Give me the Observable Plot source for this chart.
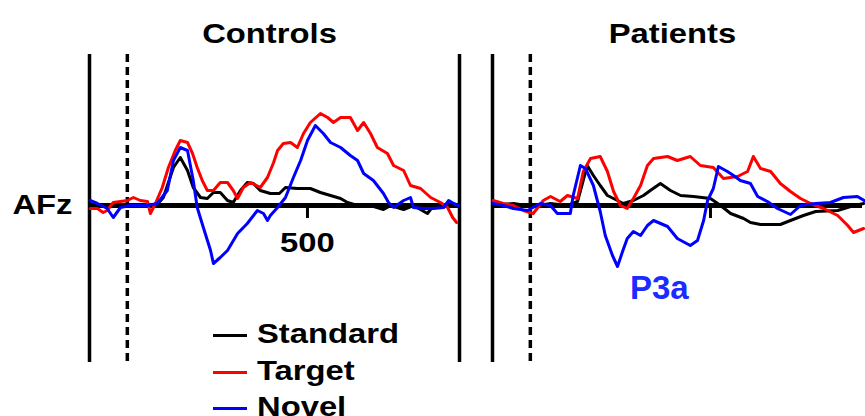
<!DOCTYPE html>
<html><head><meta charset="utf-8">
<script src="https://cdn.jsdelivr.net/npm/d3@7"></script>
<script src="https://cdn.jsdelivr.net/npm/@observablehq/plot@0.6"></script>
<style>
body{margin:0;background:#fff;}
#wrap{position:relative;width:865px;height:416px;overflow:hidden;font-family:"Liberation Sans",Arial,sans-serif;background:#fff;}
#wrap svg{position:absolute;left:0;top:0;}
.leg{position:absolute;left:213px;height:37px;width:260px;}
.leg .sw{position:absolute;left:0;top:19px;width:34px;height:3px;}
.leg .tx{position:absolute;left:44px;top:0;line-height:37px;font-size:28px;font-weight:bold;transform:scaleX(1.17);transform-origin:0 0;white-space:nowrap;color:#000;}
</style></head><body><div id="wrap"></div>
<script>
const groups = ["Controls", "Patients"];
const conditions = ["Standard", "Target", "Novel"];
const colors = ["#000000", "#ff0000", "#0000ff"];
const epoch = [-105, 922];
const stimulusOnset = 0;
const tickValues = [500];

// [time ms, amplitude]
const controlsStandard = [[-103,0],[-56,-0.1],[0,0.1],[56,0],[83,0.1],[100,0.8],[128,3.8],[147,4.8],[167,3.5],[183,1.8],[203,0.8],[222,0.7],[239,1.3],[258,1.3],[278,0.5],[294,0.3],[314,1.5],[333,2.3],[350,2.2],[369,1.5],[397,1.2],[422,1.2],[439,1.8],[472,1.7],[508,1.7],[536,1.3],[564,1.0],[592,0.7],[611,0.3],[639,0],[675,0],[711,-0.4],[731,0],[767,-0.4],[794,0],[833,-0.8],[850,0],[883,-0.1],[919,0]];
const controlsTarget = [[-103,-0.3],[-83,-0.3],[-67,-0.7],[-56,-0.5],[-39,0.3],[-19,0.4],[0,0.5],[17,0.8],[36,0.5],[56,0.4],[64,-0.8],[78,0.2],[97,1.8],[114,3.8],[133,5.5],[147,6.5],[167,6.3],[181,5.2],[194,3.8],[208,2.5],[222,1.5],[239,1.5],[258,2.3],[278,2.3],[294,1.5],[306,0.7],[322,1.8],[342,2.3],[369,1.8],[389,2.8],[406,4.3],[417,5.5],[433,6.2],[453,6.3],[472,5.8],[489,7.2],[508,8.3],[536,9.2],[556,8.8],[572,8.3],[592,8.8],[619,8.8],[639,7.5],[656,8.3],[675,7.2],[694,5.8],[722,5.2],[739,4.0],[767,3.5],[786,2.0],[814,1.7],[842,0.8],[869,0.3],[889,-0.2],[903,-1.2],[914,-1.7]];
const controlsNovel = [[-103,0.5],[-83,0.2],[-56,-0.3],[-39,-1.2],[-19,-0.2],[8,0],[56,0],[83,0.2],[111,1.5],[128,4.5],[147,5.8],[167,5.5],[183,2.5],[194,-0.2],[211,-2.2],[231,-4.5],[239,-5.8],[258,-5.2],[278,-4.5],[306,-2.8],[333,-1.8],[361,-0.5],[378,-0.8],[389,-1.5],[397,-1.0],[417,-0.2],[439,0.8],[461,2.8],[481,4.5],[500,6.5],[522,8.0],[544,7.2],[564,6.3],[592,5.8],[619,5.0],[639,4.5],[656,3.2],[683,2.5],[711,1.2],[725,0.3],[739,-0.2],[767,0.5],[786,0.8],[794,-0.2],[822,-0.3],[850,-0.3],[878,-0.2],[892,0.5],[906,0.2],[919,0]];
const patientsStandard = [[-103,0],[-47,0.2],[8,-0.1],[56,0.2],[103,0],[131,0.4],[158,4.0],[175,3.0],[194,2.0],[214,1.0],[231,0.7],[258,0.2],[286,0.5],[314,1.0],[333,1.5],[361,2.2],[389,1.5],[417,1.0],[453,0.9],[500,0.7],[528,0],[556,-0.8],[592,-1.3],[611,-1.7],[639,-1.9],[694,-1.9],[722,-1.5],[758,-1.0],[792,-0.6],[853,-0.5],[889,-0.1],[925,0.2]];
const patientsTarget = [[-103,0.5],[-75,0.2],[-47,0],[-19,-0.5],[8,-0.8],[36,0.5],[56,0.9],[83,0.4],[103,1.0],[131,0.7],[147,3.4],[167,4.7],[194,4.9],[214,3.4],[231,1.4],[250,0],[269,-0.3],[286,0.7],[306,2.0],[325,4.0],[342,4.7],[381,4.9],[408,4.5],[444,4.9],[472,4.0],[508,3.8],[536,2.7],[575,2.9],[603,3.4],[619,4.9],[639,3.7],[667,3.4],[694,2.2],[722,1.4],[750,0.7],[778,0.2],[814,-0.3],[853,-1.0],[881,-2.0],[897,-2.7],[925,-2.3]];
const patientsNovel = [[-103,0.2],[-75,0],[-47,-0.3],[-8,-0.5],[28,0.2],[56,0],[75,-0.8],[111,-0.8],[119,1.0],[139,4.0],[153,3.7],[175,2.0],[194,-0.6],[208,-3.0],[228,-5.0],[242,-6.1],[256,-4.6],[269,-3.3],[286,-2.6],[306,-3.0],[325,-2.0],[342,-1.5],[381,-2.1],[408,-3.3],[444,-4.0],[464,-3.5],[481,-1.5],[492,0.5],[508,1.7],[522,3.9],[547,3.4],[564,3.0],[583,2.5],[611,2.2],[631,0.9],[658,0.4],[686,-0.3],[722,-0.9],[750,0],[792,0.2],[833,0.3],[869,0.8],[908,0.9],[931,0.4]];

const annotation = {group: "Patients", t: 358, v: -8.25, label: "P3a"};

const series = [
  ["Controls", "Standard", controlsStandard],
  ["Controls", "Target", controlsTarget],
  ["Controls", "Novel", controlsNovel],
  ["Patients", "Standard", patientsStandard],
  ["Patients", "Target", patientsTarget],
  ["Patients", "Novel", patientsNovel]
];
const rows = [];
for (const cond of conditions) {
  for (const [g, c, arr] of series) {
    if (c !== cond) continue;
    for (const [t, v] of arr) rows.push({group: g, condition: c, key: g + c, t, v});
  }
}
const rightEdges = [{group: "Controls", t: epoch[1]}];
const tickLabels = [{group: "Controls", t: tickValues[0]}];

const chart = Plot.plot({
  width: 865,
  height: 416,
  marginLeft: 89,
  marginRight: 3,
  marginTop: 54,
  marginBottom: 54,
  style: {fontFamily: '"Liberation Sans", Arial, sans-serif', fontSize: "28px", fontWeight: "bold", background: "transparent"},
  fx: {domain: groups, paddingInner: 0.0819, paddingOuter: 0, label: null},
  x: {domain: epoch, axis: null},
  y: {domain: [-15.7, 15.1], ticks: [0], tickFormat: () => "AFz", tickSize: 0, tickPadding: 17, label: null},
  color: {domain: conditions, range: colors},
  marks: [
    Plot.axisFx({anchor: "top", tickSize: 0, tickPadding: 12, label: null, dx: -5}),
    Plot.ruleX([epoch[0]], {strokeWidth: 3.5}),
    Plot.ruleX(rightEdges, {x: "t", fx: "group", strokeWidth: 3.5}),
    Plot.ruleX([stimulusOnset], {strokeWidth: 3.5, strokeDasharray: "8,5"}),
    Plot.ruleY([0], {strokeWidth: 5}),
    Plot.ruleX(tickValues, {y1: () => 0, y2: () => -1.3, strokeWidth: 3}),
    Plot.line(rows, {x: "t", y: "v", z: "key", stroke: "condition", fx: "group", strokeWidth: 3, curve: "linear"}),
    Plot.text(tickLabels, {x: "t", y: () => 0, dy: 38, fx: "group", text: d => String(d.t)}),
    Plot.text([annotation], {x: "t", y: "v", fx: "group", text: "label", fill: "#1a2cff", fontSize: 33})
  ]
});

const wrap = document.getElementById("wrap");
wrap.append(chart);
chart.querySelectorAll("text").forEach(t => {
  if (t.textContent === "P3a") return;
  const len = t.getComputedTextLength();
  if (len > 0) {
    t.setAttribute("textLength", (len * 1.17).toFixed(1));
    t.setAttribute("lengthAdjust", "spacingAndGlyphs");
  }
});

// legend
const legTops = [315, 352, 388];
conditions.forEach((c, i) => {
  const row = document.createElement("div");
  row.className = "leg";
  row.style.top = legTops[i] + "px";
  const sw = document.createElement("span");
  sw.className = "sw";
  sw.style.background = colors[i];
  const tx = document.createElement("span");
  tx.className = "tx";
  tx.textContent = c;
  row.append(sw, tx);
  wrap.append(row);
});
</script></body></html>
